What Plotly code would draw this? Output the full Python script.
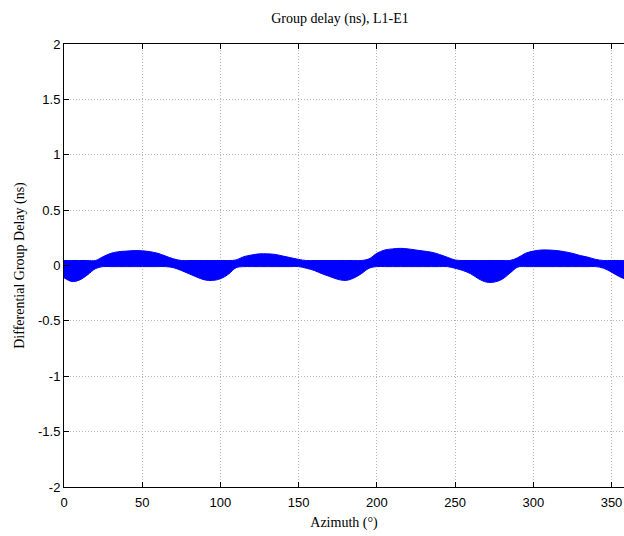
import plotly.graph_objects as go

# Azimuth samples (degrees)
azimuth = list(range(0, 361, 5))

# Upper envelope of the blue band (ns)
upper = [0.045, 0.045, 0.045, 0.045, 0.045, 0.08, 0.11, 0.125, 0.13, 0.135,
         0.133, 0.125, 0.11, 0.085, 0.06, 0.045, 0.045, 0.045, 0.045, 0.045,
         0.045, 0.045, 0.05, 0.08, 0.095, 0.105, 0.105, 0.10, 0.085, 0.07,
         0.055, 0.045, 0.045, 0.045, 0.045, 0.045, 0.045, 0.045, 0.045, 0.06,
         0.11, 0.14, 0.15, 0.155, 0.15, 0.14, 0.13, 0.12, 0.10, 0.075,
         0.05, 0.045, 0.045, 0.045, 0.045, 0.045, 0.045, 0.045, 0.07, 0.11,
         0.13, 0.14, 0.14, 0.135, 0.125, 0.11, 0.09, 0.075, 0.055, 0.045,
         0.045, 0.045, 0.045]

# Lower envelope of the blue band (ns)
lower = [-0.11, -0.145, -0.13, -0.085, -0.03, -0.01, -0.01, -0.01, -0.01, -0.01,
         -0.01, -0.01, -0.01, -0.01, -0.02, -0.045, -0.075, -0.105, -0.13, -0.135,
         -0.12, -0.08, -0.02, -0.01, -0.01, -0.01, -0.01, -0.01, -0.01, -0.01,
         -0.01, -0.025, -0.045, -0.075, -0.10, -0.125, -0.135, -0.115, -0.075, -0.025,
         -0.01, -0.01, -0.01, -0.01, -0.01, -0.01, -0.01, -0.01, -0.01, -0.01,
         -0.025, -0.045, -0.075, -0.12, -0.15, -0.15, -0.125, -0.07, -0.015, -0.01,
         -0.01, -0.01, -0.01, -0.01, -0.01, -0.01, -0.01, -0.01, -0.01, -0.025,
         -0.06, -0.10, -0.13]

x_ticks = [0, 50, 100, 150, 200, 250, 300, 350]
y_ticks = [-2, -1.5, -1, -0.5, 0, 0.5, 1, 1.5, 2]
y_tick_labels = ["-2", "-1.5", "-1", "-0.5", "0", "0.5", "1", "1.5", "2"]

BLUE = "#0000ff"

fig = go.Figure()
fig.add_trace(go.Scatter(x=azimuth, y=lower, mode="lines",
                         line=dict(color=BLUE, width=1, shape="spline"),
                         showlegend=False, hoverinfo="skip"))
fig.add_trace(go.Scatter(x=azimuth, y=upper, mode="lines", fill="tonexty",
                         fillcolor=BLUE,
                         line=dict(color=BLUE, width=1, shape="spline"),
                         showlegend=False))

axis_font = dict(family="Liberation Sans, Arial, sans-serif", size=13, color="black")
title_font = dict(family="Liberation Serif, Times New Roman, serif", size=14, color="black")

W, H = 624, 536
fig.update_layout(
    width=W, height=H,
    paper_bgcolor="white", plot_bgcolor="white",
    margin=dict(l=64, r=0, t=44, b=49, autoexpand=False),
    title=dict(text="Group delay (ns), L1-E1", x=340 / W, xanchor="center",
               y=1 - 18 / H, yanchor="middle", font=title_font, automargin=False),
    xaxis=dict(range=[0, 358], tickvals=x_ticks, ticks="inside", ticklen=5,
               tickcolor="black", showline=True, linecolor="black", linewidth=1,
               mirror="ticks", showgrid=True, gridcolor="#b4b4b4",
               griddash="1px,2px", gridwidth=1, zeroline=False, tickfont=axis_font,
               automargin=False, ticklabelstandoff=3,
               title=dict(text="Azimuth (°)", font=title_font, standoff=8)),
    yaxis=dict(range=[-2, 2], tickvals=y_ticks, ticktext=y_tick_labels,
               ticks="inside", ticklen=5, tickcolor="black", showline=True,
               linecolor="black", linewidth=1, mirror=False, showgrid=True,
               gridcolor="#b4b4b4", griddash="1px,2px", gridwidth=1, zeroline=False,
               tickfont=axis_font, automargin=False,
               title=dict(text="Differential Group Delay (ns)", font=title_font,
                          standoff=10)),
)

fig.write_html(
    "out.html",
    config={"displayModeBar": False},
    post_script="document.body.style.margin='0';document.body.style.overflow='hidden';",
)
